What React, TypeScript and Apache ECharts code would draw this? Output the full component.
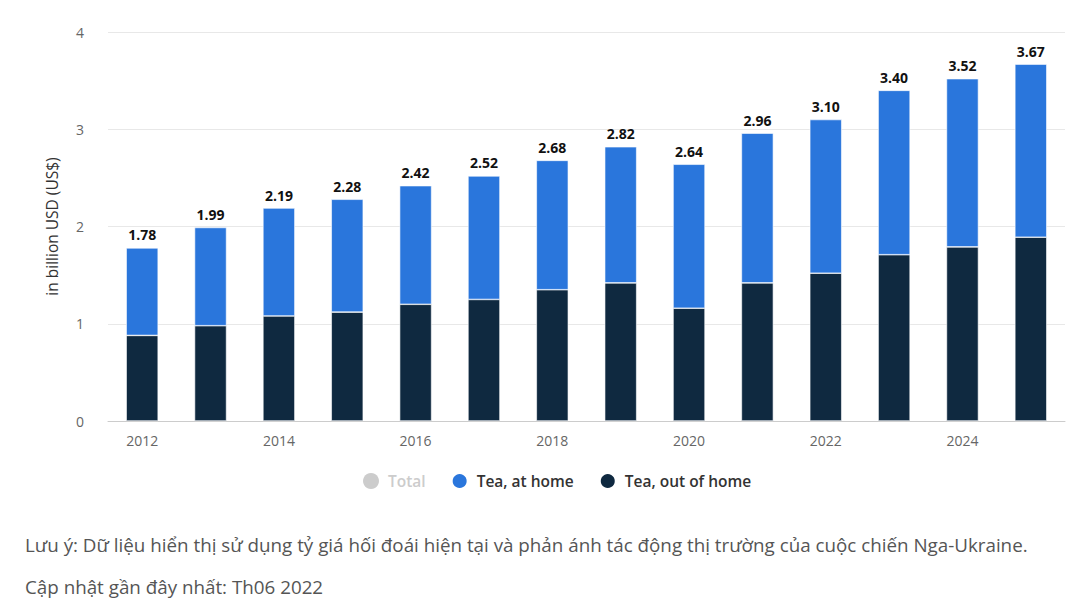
import React, { useEffect, useRef } from "react";
import * as echarts from "echarts";

const years = ["2012","2013","2014","2015","2016","2017","2018","2019","2020","2021","2022","2023","2024","2025"];
const totals = [1.78, 1.99, 2.19, 2.28, 2.42, 2.52, 2.68, 2.82, 2.64, 2.96, 3.10, 3.40, 3.52, 3.67];
const outOfHome = [0.88, 0.98, 1.08, 1.12, 1.20, 1.25, 1.35, 1.42, 1.16, 1.42, 1.52, 1.71, 1.79, 1.89];
const atHome = [0.90, 1.01, 1.11, 1.16, 1.22, 1.27, 1.33, 1.40, 1.48, 1.54, 1.58, 1.69, 1.73, 1.78];
const yTicks = [0, 1, 2, 3, 4];
const note1 = "Lưu ý: Dữ liệu hiển thị sử dụng tỷ giá hối đoái hiện tại và phản ánh tác động thị trường của cuộc chiến Nga-Ukraine.";
const note2 = "Cập nhật gần đây nhất: Th06 2022";

export default function App() {
  const ref = useRef<HTMLDivElement>(null);
  useEffect(() => {
    document.body.style.margin = "0";
    const chart = echarts.init(ref.current!, null, { renderer: "svg" });
    chart.setOption({
      animation: false,
      backgroundColor: "#ffffff",
      grid: { left: 108, right: 21, top: 32, bottom: 186, containLabel: false },
      legend: {
        data: ["Total", "Tea, at home", "Tea, out of home"],
        selected: { Total: false },
        top: 467,
        left: 358,
        icon: "circle",
        itemWidth: 16,
        itemHeight: 16,
        itemGap: 25,
        inactiveColor: "#cccccc",
        textStyle: { fontSize: 15.5, color: "#333", fontWeight: 600, fontFamily: "Open Sans", padding: [0, 0, 0, 4] },
      },
      xAxis: {
        type: "category",
        data: years,
        axisLine: { lineStyle: { color: "#cccccc" } },
        axisTick: { alignWithLabel: true, interval: 1, length: 6, lineStyle: { color: "#cccccc" } },
        axisLabel: { interval: 1, color: "#666", fontSize: 14, margin: 12, fontFamily: "Open Sans" },
      },
      yAxis: {
        type: "value",
        min: yTicks[0],
        max: yTicks[yTicks.length - 1],
        interval: 1,
        name: "in billion USD (US$)",
        nameLocation: "middle",
        nameGap: 48,
        nameTextStyle: { color: "#333", fontSize: 15.5, fontFamily: "Open Sans" },
        axisLine: { show: false },
        axisTick: { show: false },
        axisLabel: { color: "#666", fontSize: 14, margin: 24, fontFamily: "Open Sans" },
        splitLine: { lineStyle: { color: "#e8e8e8" } },
      },
      series: [
        {
          name: "Total",
          type: "bar",
          data: totals,
          itemStyle: { color: "#cccccc" },
          barWidth: 32,
        },
        {
          name: "Tea, out of home",
          type: "bar",
          stack: "tea",
          data: outOfHome,
          barWidth: 32,
          itemStyle: { color: "#0f2940", borderColor: "#ffffff", borderWidth: 0.6 },
        },
        {
          name: "Tea, at home",
          type: "bar",
          stack: "tea",
          data: atHome,
          barWidth: 32,
          itemStyle: { color: "#2a76dc", borderColor: "#ffffff", borderWidth: 0.6 },
          label: {
            show: true,
            position: "top",
            distance: 6,
            color: "#111",
            fontSize: 14,
            fontWeight: "bold",
            fontFamily: "Open Sans",
            formatter: (p: any) => totals[p.dataIndex].toFixed(2),
          },
        },
      ],
      graphic: [
        {
          type: "text",
          left: 25,
          top: 535,
          style: { text: note1, fontSize: 18.8, fill: "#555", fontFamily: "Open Sans" },
        },
        {
          type: "text",
          left: 25,
          top: 577,
          style: { text: note2, fontSize: 18.8, fill: "#555", fontFamily: "Open Sans" },
        },
      ],
    });
    return () => chart.dispose();
  }, []);
  return <div ref={ref} style={{ position: "absolute", left: 0, top: 0, width: 1086, height: 607 }} />;
}
